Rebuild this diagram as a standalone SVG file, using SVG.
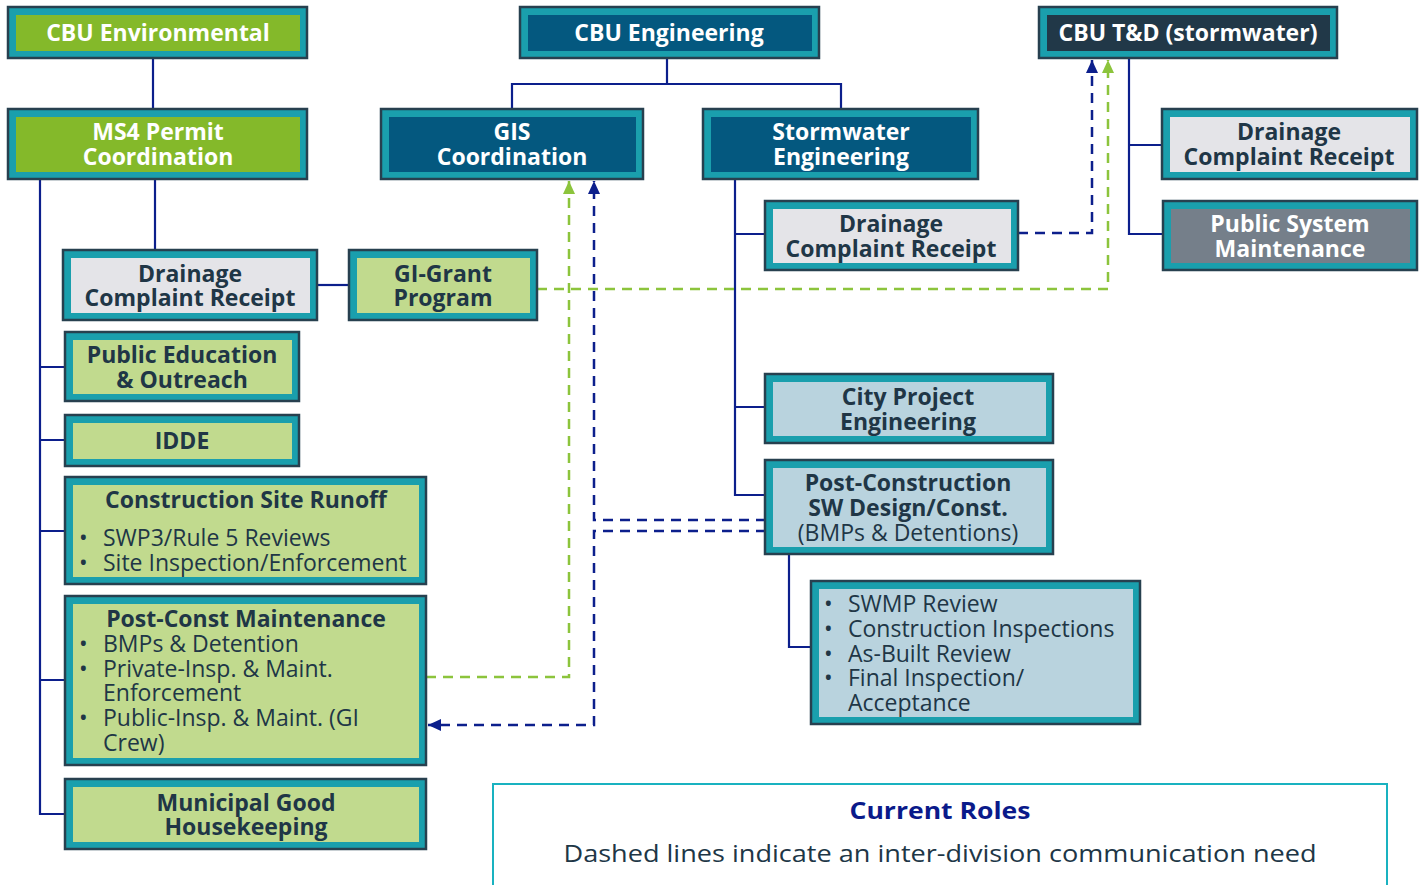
<svg xmlns="http://www.w3.org/2000/svg" width="1425" height="885" viewBox="0 0 1425 885">
  <style>
    .frame { fill: #1a9fad; stroke: #27404f; stroke-width: 2.5; }
    .f-green { fill: #84b92a; }
    .f-lgreen { fill: #c1da8e; }
    .f-navy { fill: #04587f; }
    .f-dark { fill: #213848; }
    .f-lgray { fill: #e4e4e8; }
    .f-gray { fill: #757f8a; }
    .f-lblue { fill: #b9d3de; }
    text { font-family: "Open Sans", "Noto Sans", "Liberation Sans", sans-serif; font-size: 23px; }
    .t { font-weight: 700; text-anchor: middle; }
    .w { fill: #ffffff; }
    .d { fill: #203646; }
    .r { font-weight: 400; fill: #203646; }
    .solid { fill: none; stroke: #0c1f8c; stroke-width: 2.2; }
    .dash-b { fill: none; stroke: #0c1f8c; stroke-width: 2.5; stroke-dasharray: 10 7; }
    .dash-g { fill: none; stroke: #8cc43c; stroke-width: 2.5; stroke-dasharray: 10 7; }
  </style>
  <defs>
    <marker id="ah-b" markerUnits="userSpaceOnUse" markerWidth="13" markerHeight="12" refX="13" refY="6" orient="auto">
      <path d="M0,0 L13,6 L0,12 z" fill="#0c1f8c"/>
    </marker>
    <marker id="ah-g" markerUnits="userSpaceOnUse" markerWidth="13" markerHeight="12" refX="13" refY="6" orient="auto">
      <path d="M0,0 L13,6 L0,12 z" fill="#8cc43c"/>
    </marker>
  </defs>

  <rect width="1425" height="885" fill="#ffffff"/>

  <!-- connectors -->
  <g id="connectors">
    <path class="solid" d="M153 58 V109"/>
    <path class="solid" d="M667 58 V84"/>
    <path class="solid" d="M512 109 V84 H841 V109"/>
    <path class="solid" d="M1129 58 V234 H1163"/>
    <path class="solid" d="M1129 145 H1162"/>
    <path class="solid" d="M40 179 V814 H65"/>
    <path class="solid" d="M40 367 H65 M40 440 H65 M40 531 H65 M40 680 H65"/>
    <path class="solid" d="M155 179 V250"/>
    <path class="solid" d="M317 285 H349"/>
    <path class="solid" d="M735 179 V495 H765"/>
    <path class="solid" d="M735 234 H765 M735 407 H765"/>
    <path class="solid" d="M789 554 V647 H811"/>

    <path class="dash-b" d="M1018 233 H1092 V60" marker-end="url(#ah-b)"/>
    <path class="dash-g" d="M537 289 H1108 V60" marker-end="url(#ah-g)"/>
    <path class="dash-b" d="M766 520 H594 V181" marker-end="url(#ah-b)"/>
    <path class="dash-b" d="M766 531 H594 V725 H428" marker-end="url(#ah-b)"/>
    <path class="dash-g" d="M426 677 H569 V181" marker-end="url(#ah-g)"/>
  </g>

  <!-- CBU Environmental branch -->
  <g id="cbu-environmental">
    <rect class="frame" x="8" y="7" width="299" height="51"/>
    <rect class="f-green" x="16" y="15" width="284" height="36"/>
    <text class="t w" x="158" y="41">CBU Environmental</text>
  </g>
  <g id="ms4-permit">
    <rect class="frame" x="8" y="109" width="299" height="70"/>
    <rect class="f-green" x="16" y="117" width="284" height="55"/>
    <text class="t w" x="158" y="140">MS4 Permit</text>
    <text class="t w" x="158" y="165">Coordination</text>
  </g>
  <g id="ms4-drainage">
    <rect class="frame" x="63" y="250" width="254" height="70"/>
    <rect class="f-lgray" x="71" y="258" width="239" height="55"/>
    <text class="t d" x="190" y="282">Drainage</text>
    <text class="t d" x="190" y="306">Complaint Receipt</text>
  </g>
  <g id="gi-grant">
    <rect class="frame" x="349" y="250" width="188" height="70"/>
    <rect class="f-lgreen" x="357" y="258" width="173" height="55"/>
    <text class="t d" x="443" y="282">GI-Grant</text>
    <text class="t d" x="443" y="306">Program</text>
  </g>
  <g id="public-education">
    <rect class="frame" x="65" y="332" width="234" height="69"/>
    <rect class="f-lgreen" x="73" y="340" width="219" height="54"/>
    <text class="t d" x="182" y="363">Public Education</text>
    <text class="t d" x="182" y="388">&amp; Outreach</text>
  </g>
  <g id="idde">
    <rect class="frame" x="65" y="415" width="234" height="51"/>
    <rect class="f-lgreen" x="73" y="423" width="219" height="36"/>
    <text class="t d" x="182" y="449">IDDE</text>
  </g>
  <g id="construction-site-runoff">
    <rect class="frame" x="65" y="477" width="361" height="107"/>
    <rect class="f-lgreen" x="73" y="485" width="346" height="92"/>
    <text class="t d" x="246" y="508">Construction Site Runoff</text>
    <text class="r" x="79" y="546">•</text>
    <text class="r" x="103" y="546">SWP3/Rule 5 Reviews</text>
    <text class="r" x="79" y="571">•</text>
    <text class="r" x="103" y="571">Site Inspection/Enforcement</text>
  </g>
  <g id="post-const-maintenance">
    <rect class="frame" x="65" y="596" width="361" height="169"/>
    <rect class="f-lgreen" x="73" y="604" width="346" height="154"/>
    <text class="t d" x="246" y="627">Post-Const Maintenance</text>
    <text class="r" x="79" y="652">•</text>
    <text class="r" x="103" y="652">BMPs &amp; Detention</text>
    <text class="r" x="79" y="677">•</text>
    <text class="r" x="103" y="677">Private-Insp. &amp; Maint.</text>
    <text class="r" x="103" y="701">Enforcement</text>
    <text class="r" x="79" y="726">•</text>
    <text class="r" x="103" y="726">Public-Insp. &amp; Maint. (GI</text>
    <text class="r" x="103" y="751">Crew)</text>
  </g>
  <g id="municipal-housekeeping">
    <rect class="frame" x="65" y="779" width="361" height="70"/>
    <rect class="f-lgreen" x="73" y="787" width="346" height="55"/>
    <text class="t d" x="246" y="811">Municipal Good</text>
    <text class="t d" x="246" y="835">Housekeeping</text>
  </g>

  <!-- CBU Engineering branch -->
  <g id="cbu-engineering">
    <rect class="frame" x="520" y="7" width="299" height="51"/>
    <rect class="f-navy" x="528" y="15" width="284" height="36"/>
    <text class="t w" x="669" y="41">CBU Engineering</text>
  </g>
  <g id="gis-coordination">
    <rect class="frame" x="381" y="109" width="262" height="70"/>
    <rect class="f-navy" x="389" y="117" width="247" height="55"/>
    <text class="t w" x="512" y="140">GIS</text>
    <text class="t w" x="512" y="165">Coordination</text>
  </g>
  <g id="stormwater-engineering">
    <rect class="frame" x="703" y="109" width="275" height="70"/>
    <rect class="f-navy" x="711" y="117" width="260" height="55"/>
    <text class="t w" x="841" y="140">Stormwater</text>
    <text class="t w" x="841" y="165">Engineering</text>
  </g>
  <g id="swe-drainage">
    <rect class="frame" x="765" y="201" width="253" height="69"/>
    <rect class="f-lgray" x="773" y="209" width="238" height="54"/>
    <text class="t d" x="891" y="232">Drainage</text>
    <text class="t d" x="891" y="257">Complaint Receipt</text>
  </g>
  <g id="city-project-engineering">
    <rect class="frame" x="765" y="374" width="288" height="69"/>
    <rect class="f-lblue" x="773" y="382" width="273" height="54"/>
    <text class="t d" x="908" y="405">City Project</text>
    <text class="t d" x="908" y="430">Engineering</text>
  </g>
  <g id="post-construction-design">
    <rect class="frame" x="765" y="460" width="288" height="94"/>
    <rect class="f-lblue" x="773" y="468" width="273" height="79"/>
    <text class="t d" x="908" y="491">Post-Construction</text>
    <text class="t d" x="908" y="516">SW Design/Const.</text>
    <text class="r" x="908" y="541" text-anchor="middle">(BMPs &amp; Detentions)</text>
  </g>
  <g id="swmp-tasks">
    <rect class="frame" x="811" y="581" width="329" height="143"/>
    <rect class="f-lblue" x="819" y="589" width="314" height="128"/>
    <text class="r" x="824" y="612">•</text>
    <text class="r" x="848" y="612">SWMP Review</text>
    <text class="r" x="824" y="637">•</text>
    <text class="r" x="848" y="637">Construction Inspections</text>
    <text class="r" x="824" y="662">•</text>
    <text class="r" x="848" y="662">As-Built Review</text>
    <text class="r" x="824" y="686">•</text>
    <text class="r" x="848" y="686">Final Inspection/</text>
    <text class="r" x="848" y="711">Acceptance</text>
  </g>

  <!-- CBU T&D branch -->
  <g id="cbu-td">
    <rect class="frame" x="1039" y="7" width="298" height="51"/>
    <rect class="f-dark" x="1047" y="15" width="283" height="36"/>
    <text class="t w" x="1188" y="41">CBU T&amp;D (stormwater)</text>
  </g>
  <g id="td-drainage">
    <rect class="frame" x="1162" y="109" width="255" height="70"/>
    <rect class="f-lgray" x="1170" y="117" width="240" height="55"/>
    <text class="t d" x="1289" y="140">Drainage</text>
    <text class="t d" x="1289" y="165">Complaint Receipt</text>
  </g>
  <g id="public-system-maintenance">
    <rect class="frame" x="1163" y="201" width="254" height="69"/>
    <rect class="f-gray" x="1171" y="209" width="239" height="54"/>
    <text class="t w" x="1290" y="232">Public System</text>
    <text class="t w" x="1290" y="257">Maintenance</text>
  </g>

  <!-- legend -->
  <g id="legend">
    <rect x="493" y="784" width="894" height="130" fill="#ffffff" stroke="#19b2c0" stroke-width="2"/>
    <text x="940" y="819" text-anchor="middle" font-weight="700" font-size="29" fill="#0a1a8a" textLength="181" lengthAdjust="spacingAndGlyphs">Current Roles</text>
    <text x="940" y="862" text-anchor="middle" font-size="29" fill="#203646" textLength="753" lengthAdjust="spacingAndGlyphs">Dashed lines indicate an inter-division communication need</text>
  </g>
</svg>
